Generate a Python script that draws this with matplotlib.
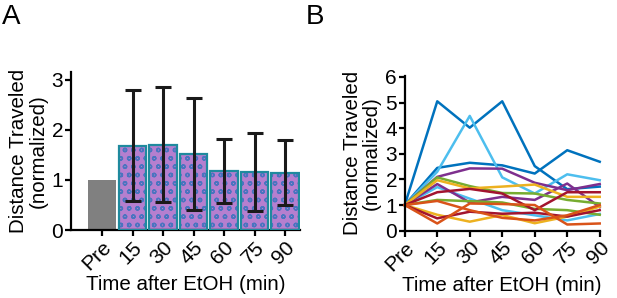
import matplotlib.pyplot as plt
import numpy as np
import matplotlib as mpl

mpl.rc('font', family=['Liberation Sans', 'DejaVu Sans'])
mpl.rcParams['hatch.linewidth'] = 1.0

# data
labels = ['Pre', '15', '30', '45', '60', '75', '90']
means = [1.0, 1.67, 1.70, 1.52, 1.18, 1.16, 1.14]
err_lo = [0, 1.10, 1.14, 1.12, 0.65, 0.78, 0.64]
err_hi = [0, 1.12, 1.16, 1.12, 0.64, 0.78, 0.65]

# individual animals (MATLAB color order, two each)
blue_1 = [1, 5.05, 4.02, 5.05, 2.52, 1.62, 1.72]
blue_2 = [1, 2.45, 2.65, 2.55, 2.23, 3.14, 2.69]
lblue_1 = [1, 2.30, 4.48, 2.08, 1.45, 2.20, 1.97]
lblue_2 = [1, 1.70, 1.25, 0.80, 0.60, 0.40, 0.65]
purple_1 = [1, 2.10, 2.43, 2.42, 1.87, 1.58, 1.82]
purple_2 = [1, 1.82, 1.10, 1.32, 1.20, 1.84, 0.92]
green_1 = [1, 2.08, 1.74, 1.47, 1.45, 1.20, 1.06]
green_2 = [1, 1.20, 1.15, 1.10, 0.85, 0.80, 0.62]
yellow_1 = [1, 1.97, 1.65, 1.72, 1.80, 1.32, 1.32]
yellow_2 = [1, 0.62, 0.35, 0.61, 0.29, 0.55, 0.94]
red_1 = [1, 1.50, 1.63, 1.45, 0.80, 1.50, 1.50]
red_2 = [1, 0.48, 0.74, 0.66, 0.70, 0.55, 0.80]
orange_1 = [1, 0.28, 1.06, 1.04, 1.00, 0.24, 0.28]
orange_2 = [1, 1.16, 0.80, 0.50, 0.40, 0.60, 1.00]

lines = [
    (blue_1, '#0072BD'), (blue_2, '#0072BD'),
    (lblue_1, '#4DBEEE'), (lblue_2, '#4DBEEE'),
    (purple_1, '#7E2F8E'), (purple_2, '#7E2F8E'),
    (green_1, '#77AC30'), (green_2, '#77AC30'),
    (yellow_1, '#EDB120'), (yellow_2, '#EDB120'),
    (red_1, '#A2142F'), (red_2, '#A2142F'),
    (orange_1, '#D95319'), (orange_2, '#D95319'),
]

fig = plt.figure(figsize=(6.17, 2.98), dpi=100)
ax1 = fig.add_axes([0.115, 0.228, 0.371, 0.530])
ax2 = fig.add_axes([0.656, 0.226, 0.316, 0.520])

def style(ax):
    for s in ['top', 'right']:
        ax.spines[s].set_visible(False)
    for s in ['left', 'bottom']:
        ax.spines[s].set_linewidth(1.6)
    ax.tick_params(width=1.6, length=4, labelsize=15, pad=1.5)
    ax.set_xticks(range(len(labels)))
    ax.set_xticklabels(labels, rotation=45, ha='right', rotation_mode='anchor')
    ax.set_xlabel('Time after EtOH (min)', fontsize=14.8, labelpad=1)
    ax.set_ylabel('Distance Traveled\n(normalized)', fontsize=14.8, labelpad=3,
                  linespacing=1.0)

# A: bars
x = np.arange(len(labels))
w = 0.9
ax1.bar(x[0], means[0], w, color='#808080', zorder=2)
ax1.bar(x[1:], means[1:], w, color='#b57fcf', edgecolor='#4a74c0',
        hatch='oo', linewidth=0, zorder=2)
ax1.bar(x[1:], means[1:], w, facecolor='none', edgecolor='#1f8a9e',
        linewidth=1.6, zorder=3)
ax1.errorbar(x[1:], means[1:], yerr=[err_lo[1:], err_hi[1:]], fmt='none',
             ecolor='#1a1a1a', elinewidth=2.2, capsize=6, capthick=2.2, zorder=4)
ax1.set_xlim(-1.02, 6.48)
ax1.set_ylim(0, 3.15)
ax1.set_yticks([0, 1, 2, 3])
style(ax1)

# B: individual traces
for vals, c in lines:
    ax2.plot(x, vals, color=c, linewidth=1.8, clip_on=False, zorder=2)
ax2.set_xlim(0, 6)
ax2.set_ylim(0, 6.05)
ax2.set_yticks(range(7))
style(ax2)

fig.text(0.003, 0.985, 'A', fontsize=20, va='top', ha='left')
fig.text(0.495, 0.985, 'B', fontsize=20, va='top', ha='left')

fig.savefig('out.png', dpi=100)
